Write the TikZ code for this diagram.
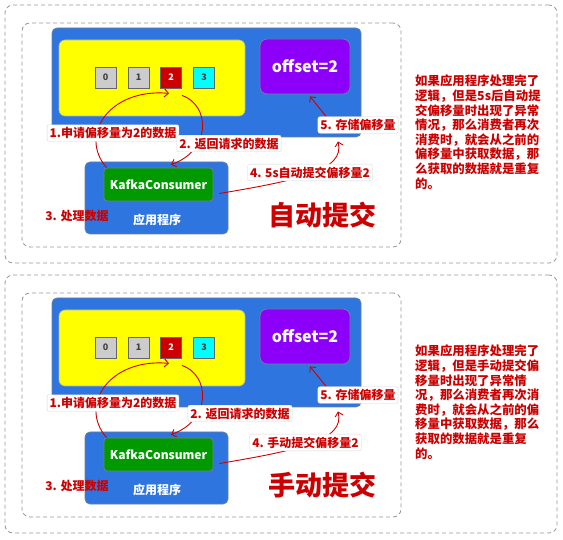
\documentclass[tikz,border=0pt]{standalone}
\usepackage{fontspec}
\setmainfont{Noto Sans CJK SC}
\usetikzlibrary{arrows.meta}
\definecolor{kblue}{RGB}{46,117,224}
\definecolor{kedge}{RGB}{110,128,155}
\definecolor{kyellow}{RGB}{255,255,0}
\definecolor{kpurple}{RGB}{140,0,250}
\definecolor{kgreen}{RGB}{0,153,0}
\definecolor{kred}{RGB}{204,0,0}
\definecolor{dashgray}{RGB}{150,150,150}
\definecolor{lblgray}{RGB}{215,215,215}
\definecolor{sqgray}{RGB}{204,204,204}
\definecolor{kcyan}{RGB}{0,255,255}
\pgfdeclarelayer{front}
\pgfsetlayers{main,front}
\tikzset{
  dashbox/.style={draw=dashgray, dash pattern=on 4pt off 3pt, rounded corners=8pt, line width=0.8pt, inner sep=0pt},
  bluebox/.style={draw=kedge, fill=kblue, rounded corners=5pt, line width=0.8pt, inner sep=0pt},
  yellowbox/.style={draw=kedge!60, fill=kyellow, rounded corners=6pt, line width=0.6pt, inner sep=0pt},
  purplebox/.style={draw=kedge, fill=kpurple, rounded corners=7pt, line width=0.8pt, inner sep=0pt, text=white, font=\bfseries\fontsize{16}{18}\selectfont},
  greenbox/.style={draw=kedge, fill=kgreen, rounded corners=3pt, line width=0.8pt, inner sep=0pt, text=white, font=\bfseries\fontsize{12}{14}\selectfont},
  sq/.style={draw=black!60, line width=0.8pt, minimum size=21pt, inner sep=0pt, font=\bfseries\fontsize{9}{10}\selectfont, text=black!75},
  lbl/.style={draw=lblgray, fill=white, rounded corners=2pt, inner sep=2.5pt, text=kred, font=\bfseries\fontsize{12}{14}\selectfont},
  redtxt/.style={text=kred, inner sep=0pt, font=\bfseries\fontsize{12}{14}\selectfont},
  whitetxt/.style={text=white, inner sep=0pt, font=\bfseries\fontsize{12}{14}\selectfont},
  titletxt/.style={text=kred, inner sep=0pt, font=\bfseries\fontsize{27}{30}\selectfont},
  sidetxt/.style={text=kred, inner sep=0pt, align=left, font=\bfseries\fontsize{12.4}{14.6}\selectfont},
  arr/.style={draw=kred, line width=0.9pt, -{Straight Barb[length=4pt,width=8pt]}},
}
% #1 suffix, #2 y offset, #3 title, #4 label 4 text, #5 label 2 x, #6 label 4 x, #7 side text
\newcommand\panelpic[7]{%
\begin{scope}[shift={(0,#2)}]
  \node[dashbox, minimum width=552pt, minimum height=258pt] (outer#1) at (281,134) {};
  \node[dashbox, minimum width=379pt, minimum height=224pt] (inner#1) at (211.5,135) {};
  \node[bluebox, minimum width=309pt, minimum height=109pt] (kafka#1) at (206.5,82.5) {};
  \node[yellowbox, minimum width=186pt, minimum height=76pt] (yellow#1) at (152,78) {};
  \node[sq, fill=sqgray] (sqa#1) at (105.5,77.5) {0};
  \node[sq, fill=sqgray] (sqb#1) at (138.5,77.5) {1};
  \node[sq, fill=kred, text=white] (sqc#1) at (171,77.5) {2};
  \node[sq, fill=kcyan] (sqd#1) at (204,77.5) {3};
  \node[purplebox, minimum width=90pt, minimum height=55pt] (purple#1) at (305,66.5) {offset=2};
  \node[bluebox, minimum width=143pt, minimum height=72pt] (app#1) at (156.5,198) {};
  \node[greenbox, minimum width=109pt, minimum height=33pt] (green#1) at (158.5,184.5) {KafkaConsumer};
  \node[whitetxt] (appname#1) at (157,220) {应用程序};
  \node[redtxt] (step3#1) at (77,216) {3. 处理数据};
  \node[titletxt] (title#1) at (322,215) {#3};
  \node[sidetxt, anchor=north west] (side#1) at (415,75) {#7};
  \begin{pgfonlayer}{front}
    \node[lbl] (label1#1) at (113,133) {1.申请偏移量为2的数据};
    \node[lbl] (label2#1) at (#5,143.5) {2. 返回请求的数据};
    \node[lbl] (label5#1) at (358,125) {5. 存储偏移量};
    \node[lbl] (label4#1) at (#6,172.5) {#4};
  \end{pgfonlayer}
  \draw[arr] ([xshift=3pt]green#1.north west) .. controls (78,135) and (110,88) .. ([xshift=-2pt,yshift=-5pt]sqc#1.south);
  \draw[arr] ([xshift=11pt,yshift=-7pt]sqc#1.south) .. controls (210,105) and (212,150) .. ([xshift=12.5pt,yshift=3pt]green#1.north);
  \draw[arr] ([xshift=6pt,yshift=-9pt]green#1.east) .. controls (300,180) and (345,170) .. ([xshift=-20pt,yshift=-8pt]label5#1.south);
  \draw[arr] ([xshift=-25pt]label5#1.center) -- ([xshift=5pt,yshift=-2pt]purple#1.south);
\end{scope}}
\begin{document}
\begin{tikzpicture}[x=1pt,y=-1pt]
\useasboundingbox (0,0) rectangle (563,540);
\panelpic{a}{0}{自动提交}{4. 5s自动提交偏移量2}{229}{310}{如果应用程序处理完了\\逻辑，但是5s后自动提\\交偏移量时出现了异常\\情况，那么消费者再次\\消费时，就会从之前的\\偏移量中获取数据，那\\么获取的数据就是重复\\的。}
\panelpic{b}{270}{手动提交}{4. 手动提交偏移量2}{240}{305.5}{如果应用程序处理完了\\逻辑，但是手动提交偏\\移量时出现了异常情\\况，那么消费者再次消\\费时，就会从之前的偏\\移量中获取数据，那么\\获取的数据就是重复\\的。}
\end{tikzpicture}
\end{document}
